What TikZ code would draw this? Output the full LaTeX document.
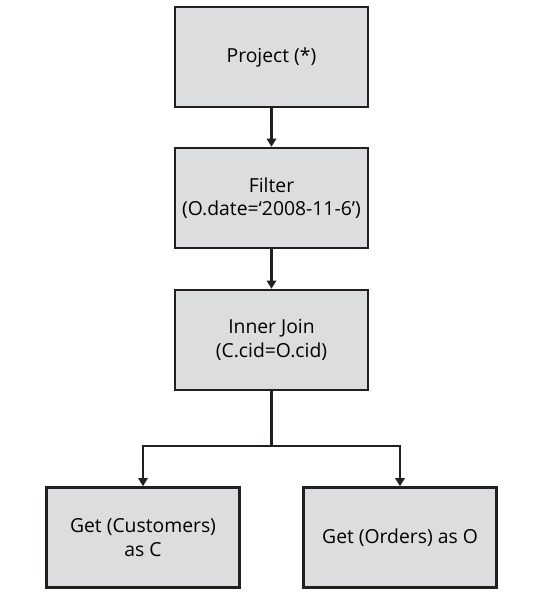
\documentclass[tikz,border=0pt]{standalone}
\usepackage{fontspec}
\setmainfont{Open Sans}
\usetikzlibrary{arrows.meta}

\definecolor{boxgray}{HTML}{DCDDDF}
\definecolor{linegray}{HTML}{231F20}
\tikzset{
	opbox/.style={draw=linegray, line width=2.1pt, fill=boxgray, minimum width=5.8cm, minimum height=3.0cm, align=center, font=\fontsize{16.5}{20}\selectfont, inner sep=0pt},
	link/.style={draw=linegray, line width=2pt, -{Triangle[length=7pt,width=8pt]}}
}

\begin{document}
\begin{tikzpicture}[x=0.03cm, y=-0.03cm]
	\useasboundingbox (0,0) rectangle (549,594);
	\node[opbox] (project) at (271.5,57) {Project (*)};
	\node[opbox] (filter) at (271.5,198) {Filter\\(O.date=‘2008-11-6’)};
	\node[opbox] (join) at (271.5,340) {Inner Join\\(C.cid=O.cid)};
	\node[opbox] (cust) at (143,537.5) {Get (Customers)\\as C};
	\node[opbox] (ord) at (400,537.5) {Get (Orders) as O};
	\coordinate (fork) at (271.5,446);
	\draw[link] (project) -- (filter);
	\draw[link] (filter) -- (join);
	\draw[line width=2pt, draw=linegray] (join.south) -- (fork);
	\draw[link] (fork) -| (cust.north);
	\draw[link] (fork) -| (ord.north);
\end{tikzpicture}
\end{document}
